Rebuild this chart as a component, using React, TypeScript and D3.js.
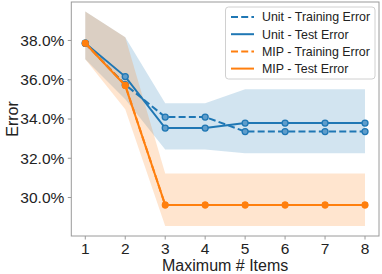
import React from "react";
import * as d3 from "d3";

const items = [1, 2, 3, 4, 5, 6, 7, 8];

const unitTrain = [37.86, 35.75, 34.1, 34.1, 33.36, 33.36, 33.36, 33.36];
const unitTest = [37.86, 36.16, 33.54, 33.54, 33.79, 33.79, 33.79, 33.79];
const mipTrain = [37.86, 35.72, 29.62, 29.62, 29.62, 29.62, 29.62, 29.62];
const mipTest = [37.86, 35.7, 29.62, 29.62, 29.62, 29.62, 29.62, 29.62];

const unitUpper = [39.47, 38.16, 34.8, 34.8, 35.52, 35.52, 35.52, 35.52];
const unitLower = [37.04, 35.0, 32.45, 32.45, 32.26, 32.26, 32.26, 32.26];
const mipUpper = [39.47, 38.16, 31.23, 31.23, 31.23, 31.23, 31.23, 31.23];
const mipLower = [37.04, 34.5, 28.55, 28.55, 28.55, 28.55, 28.55, 28.55];

const yTicks = [30, 32, 34, 36, 38];
const legendLabels = [
    "Unit - Training Error",
    "Unit - Test Error",
    "MIP - Training Error",
    "MIP - Test Error",
];

const BLUE = "#1f77b4";
const ORANGE = "#ff7f0e";
const FONT = "Liberation Sans, Arial, sans-serif";

export default function App() {
    const left = 71.3, right = 379, top = 2, bottom = 236;

    const x = d3.scaleLinear().domain([0.65, 8.35]).range([left, right]);
    const y = d3.scaleLinear().domain([28.04, 39.96]).range([bottom, top]);

    const line = d3.line<number>()
        .x((_, i) => x(items[i]))
        .y(d => y(d));

    const band = (upper: number[], lower: number[]) =>
        d3.area<number>()
            .x((_, i) => x(items[i]))
            .y0((_, i) => y(lower[i]))
            .y1(d => y(d))(upper) as string;

    const series = [
        {vals: unitTrain, color: BLUE, dash: "7,3.2", hollow: true},
        {vals: unitTest, color: BLUE, dash: "", hollow: true},
        {vals: mipTrain, color: ORANGE, dash: "7,3.2", hollow: false},
        {vals: mipTest, color: ORANGE, dash: "", hollow: false},
    ];

    const axisColor = "#9a9a9a";

    return (
        <svg width={382} height={274} style={{position: "absolute", left: 0, top: 0}}
             fontFamily={FONT}>
            <rect x={0} y={0} width={382} height={274} fill="white"/>
            <path d={band(unitUpper, unitLower)} fill={BLUE} fillOpacity={0.2}/>
            <path d={band(mipUpper, mipLower)} fill={ORANGE} fillOpacity={0.2}/>

            {series.map((s, k) => (
                <g key={k}>
                    <path d={line(s.vals) as string} fill="none" stroke={s.color}
                          strokeWidth={2} strokeDasharray={s.dash || undefined}/>
                    {s.vals.map((v, i) => (
                        <circle key={i} cx={x(items[i])} cy={y(v)} r={s.hollow ? 3 : 3.4}
                                fill={s.hollow ? "#5f9dcb" : s.color}
                                stroke={s.color} strokeWidth={s.hollow ? 1.3 : 0}/>
                    ))}
                </g>
            ))}

            {/* frame */}
            <rect x={left} y={top} width={right - left} height={bottom - top}
                  fill="none" stroke={axisColor} strokeWidth={1}/>

            {items.map(t => (
                <g key={t} transform={`translate(${x(t)},${bottom})`}>
                    <line y2={3.5} stroke={axisColor}/>
                    <text y={17.8} textAnchor="middle" fontSize={15.5} fill="#222">{t}</text>
                </g>
            ))}
            {yTicks.map(t => (
                <g key={t} transform={`translate(${left},${y(t)})`}>
                    <line x2={-3.5} stroke={axisColor}/>
                    <text x={-7} dy="0.35em" textAnchor="end" fontSize={15.5} fill="#222">
                        {t.toFixed(1) + "%"}
                    </text>
                </g>
            ))}

            <text x={(left + right) / 2} y={271} textAnchor="middle" fontSize={16} fill="#222">
                Maximum # Items
            </text>
            <text transform={`translate(18,${(top + bottom) / 2}) rotate(-90)`}
                  textAnchor="middle" fontSize={16} fill="#222">
                Error
            </text>

            {/* legend */}
            <g>
                <rect x={225.5} y={7} width={149.5} height={72} rx={3}
                      fill="white" fillOpacity={0.8} stroke="#d0d0d0" strokeWidth={1}/>
                {legendLabels.map((lab, i) => {
                    const s = series[i];
                    const ly = 17 + i * 17.2;
                    return (
                        <g key={lab}>
                            <line x1={231} x2={254} y1={ly} y2={ly} stroke={s.color}
                                  strokeWidth={2} strokeDasharray={s.dash || undefined}/>
                            <text x={262} y={ly} dy="0.35em" fontSize={12.4} fill="#222">{lab}</text>
                        </g>
                    );
                })}
            </g>
        </svg>
    );
}
